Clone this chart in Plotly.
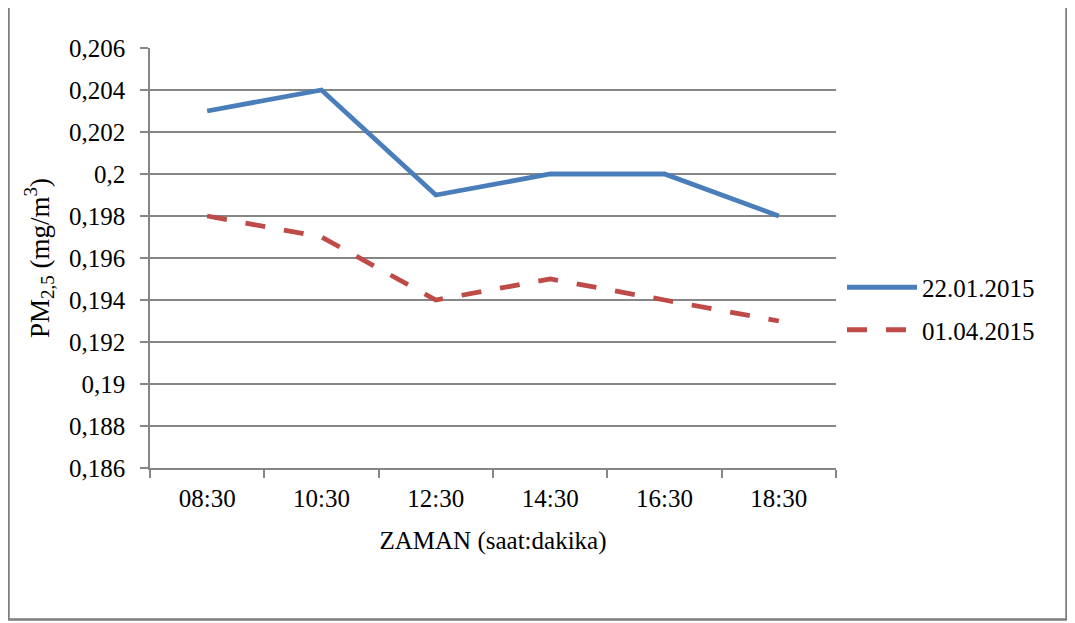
import plotly.graph_objects as go

times = ["08:30", "10:30", "12:30", "14:30", "16:30", "18:30"]
series_jan = [0.203, 0.204, 0.199, 0.200, 0.200, 0.198]
series_apr = [0.198, 0.197, 0.194, 0.195, 0.194, 0.193]
name_jan = "22.01.2015"
name_apr = "01.04.2015"
y_ticks = [0.186, 0.188, 0.190, 0.192, 0.194, 0.196, 0.198, 0.200, 0.202, 0.204, 0.206]
y_tick_labels = ["0,186", "0,188", "0,19", "0,192", "0,194", "0,196", "0,198", "0,2", "0,202", "0,204", "0,206"]

OFF = 8  # page body margin
W, H = 1075 - OFF, 623 - OFF
L, R, T, B = 150 - OFF, 836 - OFF, 48 - OFF, 468 - OFF

def px(x):
    return (x - OFF - L) / (R - L)

def py(y):
    return (B - (y - OFF)) / (B - T)

FONT = "Liberation Serif"
GRID = "#868686"

fig = go.Figure()
fig.add_trace(go.Scatter(x=times, y=series_jan, mode="lines", name=name_jan, legendgroup="a",
                         line=dict(color="#4A7EBB", width=4.8)))
fig.add_trace(go.Scatter(x=times, y=series_apr, mode="lines", name=name_apr, legendgroup="b",
                         line=dict(color="#BE4B48", width=4.8, dash="20px,19px")))

fig.update_layout(
    width=W, height=H,
    margin=dict(l=L, r=W - R, t=T, b=H - B, pad=0),
    paper_bgcolor="white", plot_bgcolor="white",
    font=dict(family=FONT, size=24, color="black"),
    showlegend=True,
    legend=dict(x=px(842), y=py(308.5), xanchor="left", yanchor="middle",
                font=dict(family=FONT, size=25, color="black"),
                itemwidth=70, tracegroupgap=7, bgcolor="rgba(0,0,0,0)"),
    xaxis=dict(
        type="category", range=[-0.5, 5.5],
        showline=True, linecolor=GRID, linewidth=1.5,
        ticks="outside", tickson="boundaries", ticklen=8, tickcolor=GRID, tickwidth=1.5,
        showgrid=False, zeroline=False, ticklabelstandoff=7,
        tickfont=dict(family=FONT, size=25),
        title=dict(text="ZAMAN (saat:dakika)", font=dict(family=FONT, size=25), standoff=21),
    ),
    yaxis=dict(
        range=[0.186, 0.206], tickvals=y_ticks, ticktext=y_tick_labels,
        showline=True, linecolor=GRID, linewidth=1.5,
        ticks="outside", ticklen=8, tickcolor=GRID, tickwidth=1.5,
        showgrid=True, gridcolor=GRID, gridwidth=1.5, zeroline=False, ticklabelstandoff=10,
        tickfont=dict(family=FONT, size=25),
        title=dict(text="PM<sub>2,5</sub> (mg/m<sup>3</sup>)", font=dict(family=FONT, size=27), standoff=12),
    ),
    shapes=[dict(type="rect", xref="paper", yref="paper",
                 x0=px(8.5), x1=px(1066.5), y0=py(619.5), y1=py(1),
                 line=dict(color="#7F7F7F", width=2.5), fillcolor="rgba(0,0,0,0)", layer="below")],
)

fig.write_html("out.html")
